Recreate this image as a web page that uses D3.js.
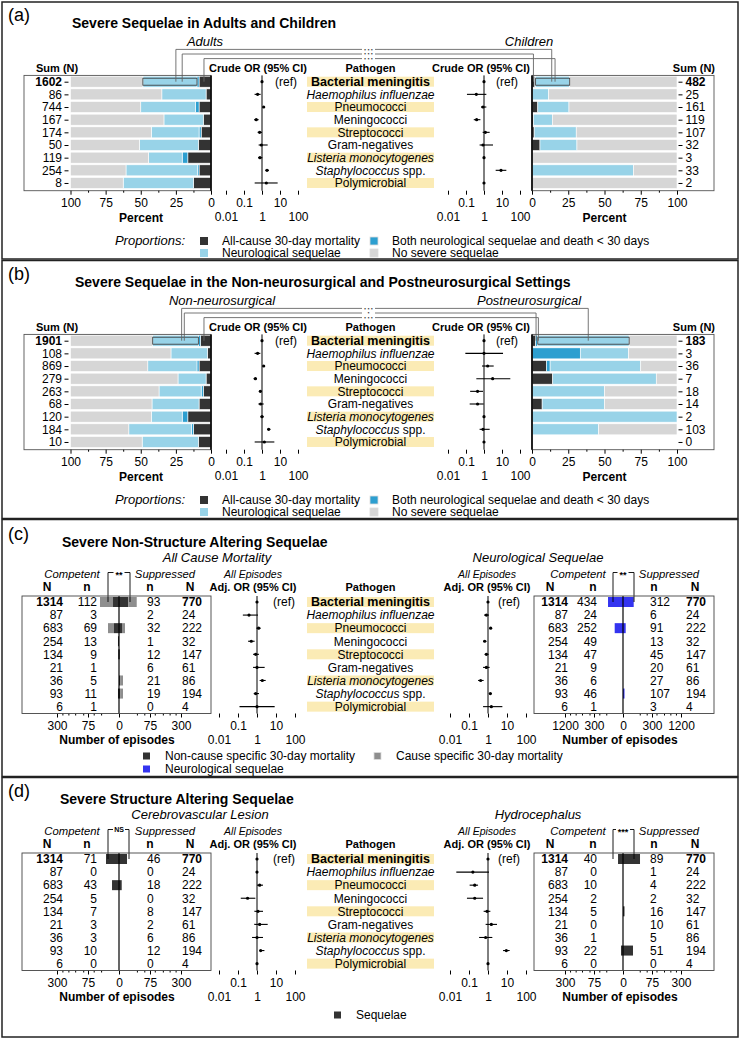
<!DOCTYPE html>
<html>
<head>
<meta charset="utf-8">
<script src="https://cdn.jsdelivr.net/npm/d3@7/dist/d3.min.js"></script>
<style>
html,body{margin:0;padding:0;background:#fff;}
svg{display:block;}
</style>
</head>
<body>
<svg id="chart" width="743" height="1041" font-family="'Liberation Sans', Arial, Helvetica, sans-serif"></svg>
<script>
// ---------------- DATA ----------------
const pathogens = ["Bacterial meningitis", "Haemophilus influenzae", "Pneumococci", "Meningococci",
  "Streptococci", "Gram-negatives", "Listeria monocytogenes", "Staphylococcus spp.", "Polymicrobial"];
const italicNames = ["Haemophilus influenzae", "Listeria monocytogenes"];
const highlightRows = [0, 2, 4, 6, 8];

// (a) Adults / Children — percent of episodes
const adultsSumN = [1602, 86, 744, 167, 174, 50, 119, 254, 8];
const adultsMortPct = [8.5, 3.5, 8.5, 5.5, 7, 9, 16.5, 8.5, 12.5];
const adultsBothPct = [1.5, 0, 2.5, 0, 1.5, 0, 4, 1, 0];
const adultsNeuroPct = [38.5, 31.5, 39, 28, 34, 42, 24, 51, 50];
const adultsOR = [1, 0.57, 1.24, 0.48, 0.74, 0.92, 0.77, 1.9, 1.74];
const adultsORlo = [null, 0.39, 1.09, 0.36, 0.57, 0.65, 0.6, 1.53, 0.39];
const adultsORhi = [null, 0.84, 1.41, 0.65, 1.0, 2.06, 1.04, 2.45, 7.4];

const childrenSumN = [482, 25, 161, 119, 107, 32, 3, 33, 2];
const childrenMortPct = [2, 0, 4, 1, 1.5, 5.5, 0, 0, 0];
const childrenBothPct = [0.5, 0, 0, 0, 0, 0, 0, 0, 0];
const childrenNeuroPct = [23.5, 11.5, 21.5, 13, 29, 25.5, 0, 70, 0];
const childrenOR = [1, 0.375, 0.88, 0.39, 1.19, 0.88, 1, 8.8, 1];
const childrenORlo = [null, 0.113, 0.68, 0.27, 0.84, 0.57, null, 4.45, null];
const childrenORhi = [null, 1.35, 1.35, 0.63, 2.06, 3.16, null, 17.4, null];

// (b) Non-neurosurgical / Postneurosurgical
const nonNeuroSumN = [1901, 108, 869, 279, 263, 68, 120, 184, 10];
const nonNeuroMortPct = [7.5, 2.5, 8.5, 3.5, 5.5, 8.5, 16.5, 12.5, 9];
const nonNeuroBothPct = [1.5, 0, 1.5, 0, 1.5, 0, 4, 1.5, 0];
const nonNeuroNeuroPct = [32.5, 26, 35, 20, 30, 33.5, 22, 44.5, 40];
const nonNeuroOR = [1, 0.57, 1.24, 0.43, 0.81, 0.84, 1.0, 2.35, 1.35];
const nonNeuroORlo = [null, 0.39, 1.09, 0.34, 0.68, 0.63, 0.81, 1.9, 0.39];
const nonNeuroORhi = [null, 0.81, 1.41, 0.53, 1.0, 1.24, 1.24, 2.9, 4.85];

const postNeuroSumN = [183, 3, 36, 7, 18, 14, 2, 103, 0];
const postNeuroMortPct = [2.5, 0, 10, 14.3, 0, 7, 0, 0.5, 0];
const postNeuroBothPct = [1.5, 33.3, 2.5, 0, 0, 0, 0, 0, 0];
const postNeuroNeuroPct = [63, 33.3, 62.5, 71.4, 50, 43, 100, 45.5, 0];
const postNeuroOR = [1, 1.0, 1.6, 3.03, 0.44, 0.44, 1, 0.88, 1];
const postNeuroORlo = [null, 0.092, 0.77, 0.375, 0.17, 0.16, null, 0.57, null];
const postNeuroORhi = [null, 11.4, 3.45, 29, 0.88, 0.96, null, 2.06, null];

// (c)/(d) immune status tables
const competentN = [1314, 87, 683, 254, 134, 21, 36, 93, 6];
const suppressedN = [770, 24, 222, 32, 147, 61, 86, 194, 4];

const mortCompN = [112, 3, 69, 13, 9, 1, 5, 11, 1];
const mortSuppN = [93, 2, 32, 1, 12, 6, 21, 19, 0];
const mortNonCauseCompBar = [2.8, 0, 1.95, 0.08, 0.05, 0, 0, 0.08, 0];
const mortCauseCompBar = [25.4, 0, 7.5, 0, 0, 0, 0, 0, 0];
const mortNonCauseSuppBar = [6.7, 0, 0.7, 0, 0.05, 0, 0.1, 0.1, 0];
const mortCauseSuppBar = [17.8, 0, 2.1, 0, 0, 0, 1.15, 1.15, 0];
const mortAdjOR = [1, 0.38, 1.22, 0.5, 0.85, 1, 1.91, 0.85, 1];
const mortAdjORlo = [null, 0.18, 0.92, 0.34, 0.62, 0.62, 1.38, 0.67, 0.12];
const mortAdjORhi = [null, 1.13, 1.56, 0.75, 1.27, 2.53, 2.86, 1.27, 8.5];

const neuroCompN = [434, 24, 252, 49, 47, 9, 6, 46, 1];
const neuroSuppN = [312, 6, 91, 13, 45, 20, 27, 107, 3];
const neuroCompBar = [80, 0, 24.6, 0, 0, 0, 0, 0, 0];
const neuroSuppBar = [40.8, 0, 2.6, 0, 0, 0, 0, 0.8, 0];
const neuroAdjOR = [1, 0.82, 1.38, 0.67, 0.82, 0.82, 0.41, 1.33, 1.5];
const neuroAdjORlo = [null, 0.62, 1.22, 0.55, 0.67, 0.55, 0.3, 1.13, 0.55];
const neuroAdjORhi = [null, 1.13, 1.62, 0.82, 1.08, 1.22, 0.59, 1.56, 5.7];

const cvCompN = [71, 0, 43, 5, 7, 3, 3, 10, 0];
const cvSuppN = [46, 0, 18, 0, 8, 2, 6, 12, 0];
const cvCompBar = [13.2, 0, 3.8, 0, 0, 0, 0, 0, 0];
const cvSuppBar = [5.0, 0, 0.57, 0, 0, 0, 0, 0, 0];
const cvAdjOR = [1, 1, 1.38, 0.32, 1.13, 1.38, 1, 1.56, 1];
const cvAdjORlo = [null, null, 1.0, 0.14, 0.72, 0.72, 0.55, 1.38, null];
const cvAdjORhi = [null, null, 2.07, 0.82, 2.07, 3.65, 2.07, 2.46, null];

const hydroCompN = [40, 0, 10, 2, 5, 0, 1, 22, 0];
const hydroSuppN = [89, 1, 4, 2, 16, 10, 5, 51, 0];
const hydroCompBar = [2.2, 0, 0, 0, 0, 0, 0, 0.36, 0];
const hydroSuppBar = [25.8, 0, 0, 0, 0.2, 0, 0, 8.9, 0];
const hydroAdjOR = [1, 0.16, 0.2, 0.2, 0.89, 1.5, 0.75, 9.2, 1];
const hydroAdjORlo = [null, 0.0215, 0.108, 0.078, 0.59, 0.75, 0.34, 6.2, null];
const hydroAdjORhi = [null, 1.13, 0.3, 0.55, 1.33, 2.98, 1.69, 13.8, null];

// tick values
const percentTicks = [0, 25, 50, 75, 100];
const percentMinorTicks = [12.5, 37.5, 62.5, 87.5];
const orTicks = [0.01, 0.1, 1, 10, 100];
const episodeTicks300 = [0, 75, 300];
const episodeMinor300 = [25, 50, 100, 150, 200, 250];
const episodeTicks1200 = [0, 300, 1200];
const episodeMinor1200 = [100, 200, 400, 600, 800, 1000];

// ---------------- DRAWING ----------------
const FONT = "'Liberation Sans', Arial, Helvetica, sans-serif";
const COL = { mort: "#333333", both: "#2d9fd0", neuro: "#98d3e8", none: "#d6d6d6",
  yellow: "#fbebb5", blue: "#3434f0", cause: "#8e8e8e", box: "#555" };
const svg = d3.select("#chart");

function txt(g, x, y, s, o = {}) {
  const t = g.append("text").attr("x", x).attr("y", y).text(s)
    .attr("font-size", o.size || 12).attr("fill", o.fill || "#000")
    .attr("text-anchor", o.anchor || "start");
  if (o.bold) t.attr("font-weight", "bold");
  if (o.italic) t.attr("font-style", "italic");
  return t;
}

function frame(top, bottom) {
  svg.append("rect").attr("x", 2).attr("y", top).attr("width", 736).attr("height", bottom - top)
    .attr("fill", "none").attr("stroke", "#222").attr("stroke-width", 1.5);
}

function pathogenColumn(g, yc) {
  pathogens.forEach((name, i) => {
    if (highlightRows.includes(i))
      g.append("rect").attr("x", 307).attr("y", yc(i) - 5).attr("width", 127).attr("height", 10).attr("fill", COL.yellow);
    const t = g.append("text").attr("x", 370.5).attr("y", yc(i) + 4.3).attr("text-anchor", "middle")
      .attr("font-size", i === 0 ? 12.5 : 12).attr("fill", "#000");
    if (i === 0) t.attr("font-weight", "bold");
    if (name.endsWith(" spp.")) {
      t.append("tspan").attr("font-style", "italic").text(name.slice(0, -5));
      t.append("tspan").text(" spp.");
    } else {
      if (italicNames.includes(name)) t.attr("font-style", "italic");
      t.text(name);
    }
  });
}

function styleAxis(a) {
  a.select(".domain").remove();
  a.attr("font-family", FONT).attr("font-size", 12);
  a.selectAll(".tick line").attr("stroke", "#000");
  a.selectAll("text").attr("fill", "#000");
}

function forest(g, o) {
  const x = d3.scaleLog().domain([0.01, 100]).range([o.center - 2 * o.ppd, o.center + 2 * o.ppd]);
  g.append("line").attr("x1", x(1)).attr("x2", x(1)).attr("y1", o.y0).attr("y2", o.y1)
    .attr("stroke", "#000").attr("stroke-width", 1);
  o.est.forEach((e, i) => {
    const cy = o.yc(i);
    if (o.lo[i] != null)
      g.append("line").attr("x1", x(o.lo[i])).attr("x2", x(o.hi[i])).attr("y1", cy).attr("y2", cy)
        .attr("stroke", "#000").attr("stroke-width", 1.1);
    g.append("circle").attr("cx", x(e)).attr("cy", cy).attr("r", 1.6).attr("fill", "#000");
  });
  txt(g, x(1) + o.refOff, o.yc(0) + 4.3, "(ref)", { anchor: "middle" });
  const a = g.append("g").attr("transform", `translate(0,${o.y1})`)
    .call(d3.axisBottom(x).tickValues(orTicks).tickSize(4).tickFormat(d => String(d)));
  styleAxis(a);
  a.selectAll("text").attr("dy", null).attr("y", d => ((d === 0.1 || d === 10) ? o.lab1 : o.lab2) - o.y1);
}

function propBars(g, x, yc, d) {
  d.n.forEach((n, i) => {
    if (n === 0) return;
    const m = d.mort[i], b = d.both[i], ne = d.neuro[i];
    const segs = [[0, m, COL.mort], [m, m + b, COL.both], [m + b, m + b + ne, COL.neuro], [m + b + ne, 100, COL.none]];
    segs.forEach(([a0, a1, c]) => {
      if (a1 - a0 <= 0) return;
      g.append("rect").attr("x", Math.min(x(a0), x(a1))).attr("width", Math.abs(x(a1) - x(a0)))
        .attr("y", yc(i) - 5.5).attr("height", 11).attr("fill", c).attr("stroke", "#fff").attr("stroke-width", 0.6);
    });
    if (i === 0) {
      g.append("rect").attr("x", Math.min(x(m + b), x(m + b + ne))).attr("width", Math.abs(x(m + b + ne) - x(m + b)))
        .attr("y", yc(i) - 3.5).attr("height", 7).attr("fill", "none").attr("stroke", "#333").attr("stroke-width", 0.8);
    }
  });
}

function proportionPanel(o) {
  const g = svg.append("g");
  const T = o.top;
  txt(g, 8, T + 19, o.tag, { size: 18 });
  txt(g, o.titleX, T + 26, o.title, { size: 14, bold: true });
  txt(g, o.leftLabelX, T + 44, o.leftLabel, { size: 13, italic: true, anchor: "middle" });
  txt(g, o.rightLabelX, T + 44, o.rightLabel, { size: 13, italic: true, anchor: "middle" });
  txt(g, 36, T + 70, "Sum (N)", { size: 11, bold: true });
  txt(g, 715, T + 70, "Sum (N)", { size: 11, bold: true, anchor: "end" });
  txt(g, 258, T + 70, "Crude OR (95% CI)", { size: 11, bold: true, anchor: "middle" });
  txt(g, 481, T + 70, "Crude OR (95% CI)", { size: 11, bold: true, anchor: "middle" });
  txt(g, 370.5, T + 70, "Pathogen", { size: 11, bold: true, anchor: "middle" });

  const yc = d3.scalePoint().domain(d3.range(9)).range([T + 79.7, T + 79.7 + 8 * 12.66]);
  const y0 = T + 73.4, y1 = T + 188.7;
  const xL = d3.scaleLinear().domain([0, 100]).range([211, 70.5]);
  const xR = d3.scaleLinear().domain([0, 100]).range([532, 677]);

  propBars(g, xL, yc, o.L);
  propBars(g, xR, yc, o.R);

  // brackets with significance stars
  const levels = [47.4, 52.0, 56.6].map(v => T + v);
  const bg = g.append("g").attr("fill", "none").attr("stroke", "#666").attr("stroke-width", 0.9);
  o.leftBr.forEach(b => bg.append("path").attr("d", `M362,${levels[b.level]}H${xL(b.pct)}V${yc(0)}`));
  o.rightBr.forEach(b => bg.append("path").attr("d", `M375,${levels[b.level]}H${xR(b.pct)}V${yc(0)}`));
  o.stars.forEach((s, k) => txt(g, 369.3, levels[k] + 2.4, s, { size: 4.1, bold: true, anchor: "middle" })
    .attr("letter-spacing", 1.7));

  // boxes
  g.append("rect").attr("x", 24).attr("y", y0).attr("width", 211 - 24).attr("height", y1 - y0)
    .attr("fill", "none").attr("stroke", COL.box).attr("stroke-width", 0.9);
  g.append("rect").attr("x", 532).attr("y", y0).attr("width", 714 - 532).attr("height", y1 - y0)
    .attr("fill", "none").attr("stroke", COL.box).attr("stroke-width", 0.9);
  [211, 532].forEach(x => g.append("line").attr("x1", x).attr("x2", x).attr("y1", y0).attr("y2", y1)
    .attr("stroke", "#000").attr("stroke-width", 1.6));

  // sum labels
  const aL = g.append("g").attr("transform", "translate(68.5,0)")
    .call(d3.axisLeft(yc).tickSize(4).tickPadding(2.5).tickFormat(i => o.L.n[i]));
  styleAxis(aL);
  aL.selectAll("text").attr("font-weight", i => i === 0 ? "bold" : null);
  const aR = g.append("g").attr("transform", "translate(678.5,0)")
    .call(d3.axisRight(yc).tickSize(4).tickPadding(3).tickFormat(i => "" + o.R.n[i]));
  styleAxis(aR);
  aR.selectAll("text").attr("font-weight", i => i === 0 ? "bold" : null);

  // percent axes
  [[xL, 141], [xR, 604.5]].forEach(([x, cx]) => {
    const a = g.append("g").attr("transform", `translate(0,${y1})`)
      .call(d3.axisBottom(x).tickValues(percentTicks).tickSize(4));
    styleAxis(a);
    a.selectAll("text").attr("dy", null).attr("y", T + 205.5 - y1);
    const m = g.append("g").attr("transform", `translate(0,${y1})`)
      .call(d3.axisBottom(x).tickValues(percentMinorTicks).tickSize(2).tickFormat(""));
    styleAxis(m);
    txt(g, cx, T + 219.5, "Percent", { bold: true, anchor: "middle" });
  });

  forest(g, { center: 262, ppd: 18, yc, y0, y1, est: o.L.or, lo: o.L.lo, hi: o.L.hi, lab1: T + 205.5, lab2: T + 219.5, refOff: 24 });
  forest(g, { center: 484, ppd: 18, yc, y0, y1, est: o.R.or, lo: o.R.lo, hi: o.R.hi, lab1: T + 205.5, lab2: T + 219.5, refOff: 23 });
  pathogenColumn(g, yc);

  // legend
  txt(g, 185, T + 243, "Proportions:", { size: 13, italic: true, anchor: "end" });
  const leg = [
    { x: 200, r: 0, c: COL.mort, s: "All-cause 30-day mortality" },
    { x: 370, r: 0, c: COL.both, s: "Both neurological sequelae and death < 30 days", outline: true },
    { x: 200, r: 1, c: COL.neuro, s: "Neurological sequelae" },
    { x: 370, r: 1, c: COL.none, s: "No severe sequelae", outline: true }
  ];
  leg.forEach(l => {
    const by = T + 243 + l.r * 12;
    g.append("rect").attr("x", l.x).attr("y", by - 8).attr("width", 8).attr("height", 8).attr("fill", l.c)
      .attr("stroke", l.outline ? "#ddd" : "none").attr("stroke-width", 0.8);
    txt(g, l.x + 22, by, l.s);
  });
}

function countSide(g, s, yc, y0, y1, T) {
  const xComp = d3.scaleSqrt().domain([0, s.domainMax]).range([s.cx, s.cx - s.maxPx]);
  const xSupp = d3.scaleSqrt().domain([0, s.domainMax]).range([s.cx, s.cx + s.maxPx]);
  d3.range(9).forEach(i => {
    let c0 = 0, p0 = 0;
    s.segs.forEach(seg => {
      const c1 = c0 + seg.comp[i], p1 = p0 + seg.supp[i];
      if (seg.comp[i] > 0)
        g.append("rect").attr("x", xComp(c1)).attr("width", xComp(c0) - xComp(c1)).attr("y", yc(i) - 5).attr("height", 10)
          .attr("fill", seg.color);
      if (seg.supp[i] > 0)
        g.append("rect").attr("x", xSupp(p0)).attr("width", xSupp(p1) - xSupp(p0)).attr("y", yc(i) - 5).attr("height", 10)
          .attr("fill", seg.color);
      c0 = c1; p0 = p1;
    });
  });
  g.append("line").attr("x1", s.cx).attr("x2", s.cx).attr("y1", y0).attr("y2", y1).attr("stroke", "#000").attr("stroke-width", 1.2);
  d3.range(9).forEach(i => {
    const by = yc(i) + 4.3, b = i === 0;
    txt(g, s.colN, by, competentN[i], { anchor: "end", bold: b });
    txt(g, s.coln, by, s.compn[i], { anchor: "end" });
    txt(g, s.colSn, by, s.suppn[i]);
    txt(g, s.colSN, by, suppressedN[i], { bold: b });
  });
  // axis
  [[xComp, s.majors.filter(v => v > 0)], [xSupp, s.majors]].forEach(([x, tv]) => {
    const a = g.append("g").attr("transform", `translate(0,${y1})`)
      .call(d3.axisBottom(x).tickValues(tv).tickSize(4).tickFormat(d3.format("d")));
    styleAxis(a);
    a.selectAll("text").attr("dy", null).attr("y", T + 209 - y1);
    const m = g.append("g").attr("transform", `translate(0,${y1})`)
      .call(d3.axisBottom(x).tickValues(s.minors).tickSize(2).tickFormat(""));
    styleAxis(m);
  });
  txt(g, s.axisLabelX, T + 222.5, "Number of episodes", { bold: true, anchor: "middle" });
  // bracket
  const by = T + 51.5, gap = s.bracket.gap;
  g.append("path").attr("d", `M${s.bracket.x1},${yc(0)}V${by}H${s.cx - gap}M${s.cx + gap},${by}H${s.bracket.x2}V${yc(0)}`)
    .attr("fill", "none").attr("stroke", "#000").attr("stroke-width", 0.9);
  const star = s.bracket.label.includes("*");
  txt(g, s.cx, by + (star ? 5.2 : 2.5), s.bracket.label, { size: star ? 9 : 7, bold: true, anchor: "middle" });
}

function countPanel(o) {
  const g = svg.append("g");
  const T = o.top;
  txt(g, 8, T + 19, o.tag, { size: 18 });
  txt(g, o.titleX, T + 26, o.title, { size: 14, bold: true });
  txt(g, o.leftSubX, T + 41, o.leftSub, { size: 13, italic: true, anchor: "middle" });
  txt(g, 538, T + 41, o.rightSub, { size: 13, italic: true, anchor: "middle" });
  [[72, "Competent"], [165, "Suppressed"], [578, "Competent"], [669, "Suppressed"]]
    .forEach(([x, s]) => txt(g, x, T + 56.5, s, { size: 11.3, italic: true, anchor: "middle" }));
  [[47, "N"], [87, "n"], [150, "n"], [190, "N"], [550, "N"], [593, "n"], [654, "n"], [695, "N"]]
    .forEach(([x, s]) => txt(g, x, T + 69.5, s, { bold: true, anchor: "middle" }));
  [253, 487].forEach(x => {
    txt(g, x, T + 56.5, "All Episodes", { size: 10.5, italic: true, anchor: "middle" });
    txt(g, x, T + 69.5, "Adj. OR (95% CI)", { size: 11, bold: true, anchor: "middle" });
  });
  txt(g, 370.5, T + 69.5, "Pathogen", { size: 11, bold: true, anchor: "middle" });

  const yc = d3.scalePoint().domain(d3.range(9)).range([T + 81, T + 81 + 8 * 13.08]);
  const y0 = T + 75, y1 = T + 192.5;

  countSide(g, o.L, yc, y0, y1, T);
  countSide(g, o.R, yc, y0, y1, T);

  g.append("rect").attr("x", 22).attr("y", y0).attr("width", 211 - 22).attr("height", y1 - y0)
    .attr("fill", "none").attr("stroke", "#444").attr("stroke-width", 0.9);
  g.append("rect").attr("x", 534).attr("y", y0).attr("width", 714 - 534).attr("height", y1 - y0)
    .attr("fill", "none").attr("stroke", "#444").attr("stroke-width", 0.9);

  forest(g, { center: 257, ppd: 19, yc, y0, y1, est: o.L.or, lo: o.L.lo, hi: o.L.hi, lab1: T + 209, lab2: T + 222.5, refOff: 27 });
  forest(g, { center: 488, ppd: 19, yc, y0, y1, est: o.R.or, lo: o.R.lo, hi: o.R.hi, lab1: T + 209, lab2: T + 222.5, refOff: 21 });
  pathogenColumn(g, yc);

  o.legend.forEach(l => {
    const by = T + l.dy;
    g.append("rect").attr("x", l.x).attr("y", by - 7.5).attr("width", 7).attr("height", 7).attr("fill", l.c)
      .attr("stroke", l.outline ? "#ddd" : "none").attr("stroke-width", 0.8);
    txt(g, l.x + 22, by, l.s);
  });
}

// frames
frame(2, 259);
frame(260.5, 518.5);
frame(519.5, 776.5);
frame(777.5, 1037);

proportionPanel({
  top: 2, tag: "(a)", title: "Severe Sequelae in Adults and Children", titleX: 72,
  leftLabel: "Adults", leftLabelX: 205, rightLabel: "Children", rightLabelX: 529,
  L: { n: adultsSumN, mort: adultsMortPct, both: adultsBothPct, neuro: adultsNeuroPct, or: adultsOR, lo: adultsORlo, hi: adultsORhi },
  R: { n: childrenSumN, mort: childrenMortPct, both: childrenBothPct, neuro: childrenNeuroPct, or: childrenOR, lo: childrenORlo, hi: childrenORhi },
  leftBr: [{ pct: 25, level: 0 }, { pct: 20.5, level: 1 }, { pct: 5, level: 2 }],
  rightBr: [{ pct: 13.6, level: 0 }, { pct: 1, level: 1 }, { pct: 15.9, level: 2 }],
  stars: ["***", "***", "***"]
});

proportionPanel({
  top: 261, tag: "(b)", title: "Severe Sequelae in the Non-neurosurgical and Postneurosurgical Settings", titleX: 75,
  leftLabel: "Non-neurosurgical", leftLabelX: 222, rightLabel: "Postneurosurgical", rightLabelX: 529,
  L: { n: nonNeuroSumN, mort: nonNeuroMortPct, both: nonNeuroBothPct, neuro: nonNeuroNeuroPct, or: nonNeuroOR, lo: nonNeuroORlo, hi: nonNeuroORhi },
  R: { n: postNeuroSumN, mort: postNeuroMortPct, both: postNeuroBothPct, neuro: postNeuroNeuroPct, or: postNeuroOR, lo: postNeuroORlo, hi: postNeuroORhi },
  leftBr: [{ pct: 20.9, level: 0 }, { pct: 19, level: 1 }, { pct: 5, level: 2 }],
  rightBr: [{ pct: 38.8, level: 0 }, { pct: 2.8, level: 1 }, { pct: 4.4, level: 2 }],
  stars: ["***", "*", "***"]
});

countPanel({
  top: 521, tag: "(c)", title: "Severe Non-Structure Altering Sequelae", titleX: 62,
  leftSub: "All Cause Mortality", leftSubX: 217, rightSub: "Neurological Sequelae",
  L: { cx: 119, domainMax: 300, maxPx: 62, colN: 63, coln: 97, colSn: 147, colSN: 182,
       compn: mortCompN, suppn: mortSuppN,
       segs: [{ comp: mortNonCauseCompBar, supp: mortNonCauseSuppBar, color: COL.mort },
              { comp: mortCauseCompBar, supp: mortCauseSuppBar, color: COL.cause }],
       majors: episodeTicks300, minors: episodeMinor300, axisLabelX: 117,
       bracket: { x1: 108, x2: 130, label: "**", gap: 5.5 },
       or: mortAdjOR, lo: mortAdjORlo, hi: mortAdjORhi },
  R: { cx: 623, domainMax: 1200, maxPx: 58, colN: 568, coln: 597, colSn: 650, colSN: 686,
       compn: neuroCompN, suppn: neuroSuppN,
       segs: [{ comp: neuroCompBar, supp: neuroSuppBar, color: COL.blue }],
       majors: episodeTicks1200, minors: episodeMinor1200, axisLabelX: 620,
       bracket: { x1: 613, x2: 634, label: "**", gap: 5.5 },
       or: neuroAdjOR, lo: neuroAdjORlo, hi: neuroAdjORhi },
  legend: [
    { x: 143, dy: 239, c: COL.mort, s: "Non-cause specific 30-day mortality" },
    { x: 374, dy: 239, c: COL.cause, s: "Cause specific 30-day mortality", outline: true },
    { x: 143, dy: 252, c: COL.blue, s: "Neurological sequelae" }
  ]
});

countPanel({
  top: 778, tag: "(d)", title: "Severe Structure Altering Sequelae", titleX: 60,
  leftSub: "Cerebrovascular Lesion", leftSubX: 200, rightSub: "Hydrocephalus",
  L: { cx: 119, domainMax: 300, maxPx: 62, colN: 63, coln: 97, colSn: 147, colSN: 182,
       compn: cvCompN, suppn: cvSuppN,
       segs: [{ comp: cvCompBar, supp: cvSuppBar, color: COL.mort }],
       majors: episodeTicks300, minors: episodeMinor300, axisLabelX: 117,
       bracket: { x1: 108, x2: 129, label: "NS", gap: 6 },
       or: cvAdjOR, lo: cvAdjORlo, hi: cvAdjORhi },
  R: { cx: 623, domainMax: 300, maxPx: 58, colN: 568, coln: 597, colSn: 650, colSN: 686,
       compn: hydroCompN, suppn: hydroSuppN,
       segs: [{ comp: hydroCompBar, supp: hydroSuppBar, color: COL.mort }],
       majors: episodeTicks300, minors: episodeMinor300, axisLabelX: 620,
       bracket: { x1: 613, x2: 634, label: "***", gap: 7 },
       or: hydroAdjOR, lo: hydroAdjORlo, hi: hydroAdjORhi },
  legend: [
    { x: 334, dy: 241, c: COL.mort, s: "Sequelae" }
  ]
});
</script>
</body>
</html>
